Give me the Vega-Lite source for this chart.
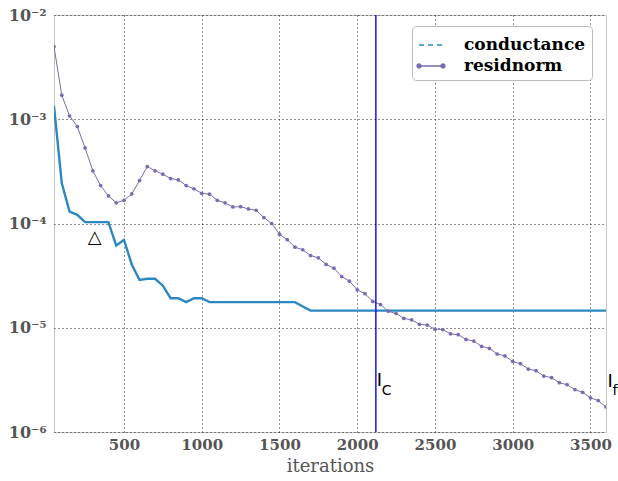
{
  "$schema": "https://vega.github.io/schema/vega-lite/v6.json",
  "width": 552,
  "height": 417,
  "autosize": {"type": "none"},
  "padding": {"left": 54, "top": 15, "right": 12, "bottom": 49},
  "background": "white",
  "config": {
    "view": {"stroke": "#c4c4c4", "strokeWidth": 1},
    "font": "DejaVu Serif",
    "axis": {
      "grid": true,
      "gridDash": [1, 3],
      "gridColor": "#222222",
      "gridWidth": 1,
      "ticks": false,
      "domain": false,
      "labelFont": "DejaVu Serif",
      "labelFontWeight": "bold",
      "labelFontSize": 15,
      "labelColor": "#555555",
      "titleFont": "DejaVu Serif",
      "titleFontWeight": "normal",
      "titleFontSize": 18,
      "titleColor": "#555555"
    }
  },
  "datasets": {
    "series": [
      {"series": "conductance", "it": 50, "v": 1.34e-3},
      {"series": "conductance", "it": 100, "v": 2.44e-4},
      {"series": "conductance", "it": 150, "v": 1.30e-4},
      {"series": "conductance", "it": 200, "v": 1.21e-4},
      {"series": "conductance", "it": 250, "v": 1.03e-4},
      {"series": "conductance", "it": 300, "v": 1.03e-4},
      {"series": "conductance", "it": 350, "v": 1.03e-4},
      {"series": "conductance", "it": 400, "v": 1.03e-4},
      {"series": "conductance", "it": 450, "v": 6.15e-5},
      {"series": "conductance", "it": 500, "v": 6.97e-5},
      {"series": "conductance", "it": 550, "v": 4.05e-5},
      {"series": "conductance", "it": 600, "v": 2.88e-5},
      {"series": "conductance", "it": 650, "v": 2.95e-5},
      {"series": "conductance", "it": 700, "v": 2.95e-5},
      {"series": "conductance", "it": 750, "v": 2.53e-5},
      {"series": "conductance", "it": 800, "v": 1.92e-5},
      {"series": "conductance", "it": 850, "v": 1.92e-5},
      {"series": "conductance", "it": 900, "v": 1.76e-5},
      {"series": "conductance", "it": 950, "v": 1.92e-5},
      {"series": "conductance", "it": 1000, "v": 1.92e-5},
      {"series": "conductance", "it": 1050, "v": 1.76e-5},
      {"series": "conductance", "it": 1100, "v": 1.76e-5},
      {"series": "conductance", "it": 1150, "v": 1.76e-5},
      {"series": "conductance", "it": 1200, "v": 1.76e-5},
      {"series": "conductance", "it": 1250, "v": 1.76e-5},
      {"series": "conductance", "it": 1300, "v": 1.76e-5},
      {"series": "conductance", "it": 1350, "v": 1.76e-5},
      {"series": "conductance", "it": 1400, "v": 1.76e-5},
      {"series": "conductance", "it": 1450, "v": 1.76e-5},
      {"series": "conductance", "it": 1500, "v": 1.76e-5},
      {"series": "conductance", "it": 1550, "v": 1.76e-5},
      {"series": "conductance", "it": 1600, "v": 1.76e-5},
      {"series": "conductance", "it": 1650, "v": 1.6e-5},
      {"series": "conductance", "it": 1700, "v": 1.46e-5},
      {"series": "conductance", "it": 1800, "v": 1.46e-5},
      {"series": "conductance", "it": 2000, "v": 1.46e-5},
      {"series": "conductance", "it": 2500, "v": 1.46e-5},
      {"series": "conductance", "it": 3000, "v": 1.46e-5},
      {"series": "conductance", "it": 3600, "v": 1.46e-5},
      {"series": "residnorm", "it": 50, "v": 4.97e-3},
      {"series": "residnorm", "it": 100, "v": 1.70e-3},
      {"series": "residnorm", "it": 150, "v": 1.08e-3},
      {"series": "residnorm", "it": 200, "v": 8.5e-4},
      {"series": "residnorm", "it": 250, "v": 5.3e-4},
      {"series": "residnorm", "it": 300, "v": 3.2e-4},
      {"series": "residnorm", "it": 350, "v": 2.31e-4},
      {"series": "residnorm", "it": 400, "v": 1.84e-4},
      {"series": "residnorm", "it": 450, "v": 1.58e-4},
      {"series": "residnorm", "it": 500, "v": 1.67e-4},
      {"series": "residnorm", "it": 550, "v": 1.92e-4},
      {"series": "residnorm", "it": 600, "v": 2.58e-4},
      {"series": "residnorm", "it": 650, "v": 3.52e-4},
      {"series": "residnorm", "it": 700, "v": 3.2e-4},
      {"series": "residnorm", "it": 750, "v": 2.97e-4},
      {"series": "residnorm", "it": 800, "v": 2.70e-4},
      {"series": "residnorm", "it": 850, "v": 2.62e-4},
      {"series": "residnorm", "it": 900, "v": 2.31e-4},
      {"series": "residnorm", "it": 950, "v": 2.15e-4},
      {"series": "residnorm", "it": 1000, "v": 1.95e-4},
      {"series": "residnorm", "it": 1050, "v": 1.91e-4},
      {"series": "residnorm", "it": 1100, "v": 1.67e-4},
      {"series": "residnorm", "it": 1150, "v": 1.58e-4},
      {"series": "residnorm", "it": 1200, "v": 1.44e-4},
      {"series": "residnorm", "it": 1250, "v": 1.45e-4},
      {"series": "residnorm", "it": 1300, "v": 1.38e-4},
      {"series": "residnorm", "it": 1350, "v": 1.34e-4},
      {"series": "residnorm", "it": 1400, "v": 1.14e-4},
      {"series": "residnorm", "it": 1450, "v": 1.0e-4},
      {"series": "residnorm", "it": 1500, "v": 7.9e-5},
      {"series": "residnorm", "it": 1550, "v": 7.0e-5},
      {"series": "residnorm", "it": 1600, "v": 5.93e-5},
      {"series": "residnorm", "it": 1650, "v": 5.6e-5},
      {"series": "residnorm", "it": 1700, "v": 4.93e-5},
      {"series": "residnorm", "it": 1750, "v": 4.69e-5},
      {"series": "residnorm", "it": 1800, "v": 4.05e-5},
      {"series": "residnorm", "it": 1850, "v": 3.73e-5},
      {"series": "residnorm", "it": 1900, "v": 3.10e-5},
      {"series": "residnorm", "it": 1950, "v": 2.80e-5},
      {"series": "residnorm", "it": 2000, "v": 2.31e-5},
      {"series": "residnorm", "it": 2050, "v": 2.12e-5},
      {"series": "residnorm", "it": 2100, "v": 1.79e-5},
      {"series": "residnorm", "it": 2150, "v": 1.67e-5},
      {"series": "residnorm", "it": 2200, "v": 1.44e-5},
      {"series": "residnorm", "it": 2250, "v": 1.37e-5},
      {"series": "residnorm", "it": 2300, "v": 1.23e-5},
      {"series": "residnorm", "it": 2350, "v": 1.19e-5},
      {"series": "residnorm", "it": 2400, "v": 1.08e-5},
      {"series": "residnorm", "it": 2450, "v": 1.06e-5},
      {"series": "residnorm", "it": 2500, "v": 9.7e-6},
      {"series": "residnorm", "it": 2550, "v": 9.6e-6},
      {"series": "residnorm", "it": 2600, "v": 8.75e-6},
      {"series": "residnorm", "it": 2650, "v": 8.57e-6},
      {"series": "residnorm", "it": 2700, "v": 7.73e-6},
      {"series": "residnorm", "it": 2750, "v": 7.45e-6},
      {"series": "residnorm", "it": 2800, "v": 6.62e-6},
      {"series": "residnorm", "it": 2850, "v": 6.34e-6},
      {"series": "residnorm", "it": 2900, "v": 5.60e-6},
      {"series": "residnorm", "it": 2950, "v": 5.36e-6},
      {"series": "residnorm", "it": 3000, "v": 4.75e-6},
      {"series": "residnorm", "it": 3050, "v": 4.52e-6},
      {"series": "residnorm", "it": 3100, "v": 4.02e-6},
      {"series": "residnorm", "it": 3150, "v": 3.87e-6},
      {"series": "residnorm", "it": 3200, "v": 3.44e-6},
      {"series": "residnorm", "it": 3250, "v": 3.32e-6},
      {"series": "residnorm", "it": 3300, "v": 2.97e-6},
      {"series": "residnorm", "it": 3350, "v": 2.84e-6},
      {"series": "residnorm", "it": 3400, "v": 2.55e-6},
      {"series": "residnorm", "it": 3450, "v": 2.40e-6},
      {"series": "residnorm", "it": 3500, "v": 2.13e-6},
      {"series": "residnorm", "it": 3550, "v": 2.0e-6},
      {"series": "residnorm", "it": 3600, "v": 1.74e-6}
    ],
    "vline": [{"it": 2120, "v": 1e-6, "v2": 1e-2}],
    "tri": [{"it": 312, "v": 7.3e-5, "label": "△"}],
    "bigI": [
      {"it": 2120, "v": 3.07e-6, "label": "I"},
      {"it": 3604, "v": 3.0e-6, "label": "I"}
    ],
    "subs": [
      {"it": 2120, "v": 2.5e-6, "label": "C"},
      {"it": 3604, "v": 2.45e-6, "label": "f"}
    ]
  },
  "encoding": {
    "x": {
      "field": "it",
      "type": "quantitative",
      "scale": {"domain": [50, 3600], "nice": false, "zero": false},
      "axis": {"values": [500, 1000, 1500, 2000, 2500, 3000, 3500], "format": "d", "title": "iterations", "labelPadding": 5, "titlePadding": 5}
    },
    "y": {
      "field": "v",
      "type": "quantitative",
      "scale": {"type": "log", "domain": [1e-6, 1e-2], "nice": false},
      "axis": {
        "values": [1e-6, 1e-5, 1e-4, 1e-3, 1e-2],
        "title": null,
        "labelPadding": 8,
        "labelFontSize": 16,
        "labelExpr": "datum.value > 0.005 ? '10⁻²' : datum.value > 0.0005 ? '10⁻³' : datum.value > 0.00005 ? '10⁻⁴' : datum.value > 0.000005 ? '10⁻⁵' : '10⁻⁶'"
      }
    }
  },
  "layer": [
    {
      "data": {"name": "series"},
      "transform": [{"filter": "datum.series === 'conductance'"}],
      "mark": {"type": "line", "strokeWidth": 2.4, "clip": true},
      "encoding": {
        "color": {
          "field": "series",
          "type": "nominal",
          "scale": {"domain": ["conductance", "residnorm"], "range": ["#2c88c0", "#7b6bb0"]},
          "legend": {
            "orient": "none",
            "legendX": 358,
            "legendY": 11,
            "title": null,
            "symbolType": "stroke",
            "symbolSize": 576,
            "symbolStrokeWidth": 1.5,
            "fillColor": "white",
            "strokeColor": "#bbbbbb",
            "cornerRadius": 4,
            "padding": 6,
            "rowPadding": 0,
            "labelOffset": 20,
            "labelFont": "DejaVu Serif",
            "labelFontWeight": "bold",
            "labelFontSize": 17,
            "labelColor": "black",
            "labelLimit": 0,
            "encode": {
              "symbols": {
                "update": {
                  "strokeDash": {"signal": "datum.value === 'conductance' ? [5, 4] : [1, 0]"},
                  "stroke": {"signal": "datum.value === 'conductance' ? '#8ebfe0' : '#7b6bb0'"},
                  "shape": {"signal": "datum.value === 'residnorm' ? 'M-1,0L1,0M-1.16,0a0.16,0.16 0 1,0 0.32,0a0.16,0.16 0 1,0 -0.32,0M0.84,0a0.16,0.16 0 1,0 0.32,0a0.16,0.16 0 1,0 -0.32,0' : 'stroke'"},
                  "fill": {"signal": "datum.value === 'residnorm' ? '#7b6bb0' : 'transparent'"}
                }
              }
            }
          }
        }
      }
    },
    {
      "data": {"name": "series"},
      "transform": [{"filter": "datum.series === 'residnorm'"}],
      "mark": {"type": "line", "strokeWidth": 1, "clip": true, "point": {"filled": true, "size": 14}},
      "encoding": {
        "color": {"field": "series", "type": "nominal"}
      }
    },
    {
      "data": {"name": "vline"},
      "mark": {"type": "rule", "color": "#0000ff", "strokeWidth": 1.4, "opacity": 1},
      "encoding": {"y2": {"field": "v2"}}
    },
    {
      "data": {"name": "tri"},
      "mark": {"type": "text", "font": "DejaVu Sans", "fontSize": 18, "color": "black", "align": "center", "baseline": "middle"},
      "encoding": {"text": {"field": "label"}}
    },
    {
      "data": {"name": "bigI"},
      "mark": {"type": "text", "font": "DejaVu Sans", "fontSize": 18, "color": "black", "align": "left", "baseline": "middle", "dx": 1},
      "encoding": {"text": {"field": "label"}}
    },
    {
      "data": {"name": "subs"},
      "mark": {"type": "text", "font": "DejaVu Sans", "fontSize": 14, "color": "black", "align": "left", "baseline": "middle", "dx": 6},
      "encoding": {"text": {"field": "label"}}
    }
  ]
}
